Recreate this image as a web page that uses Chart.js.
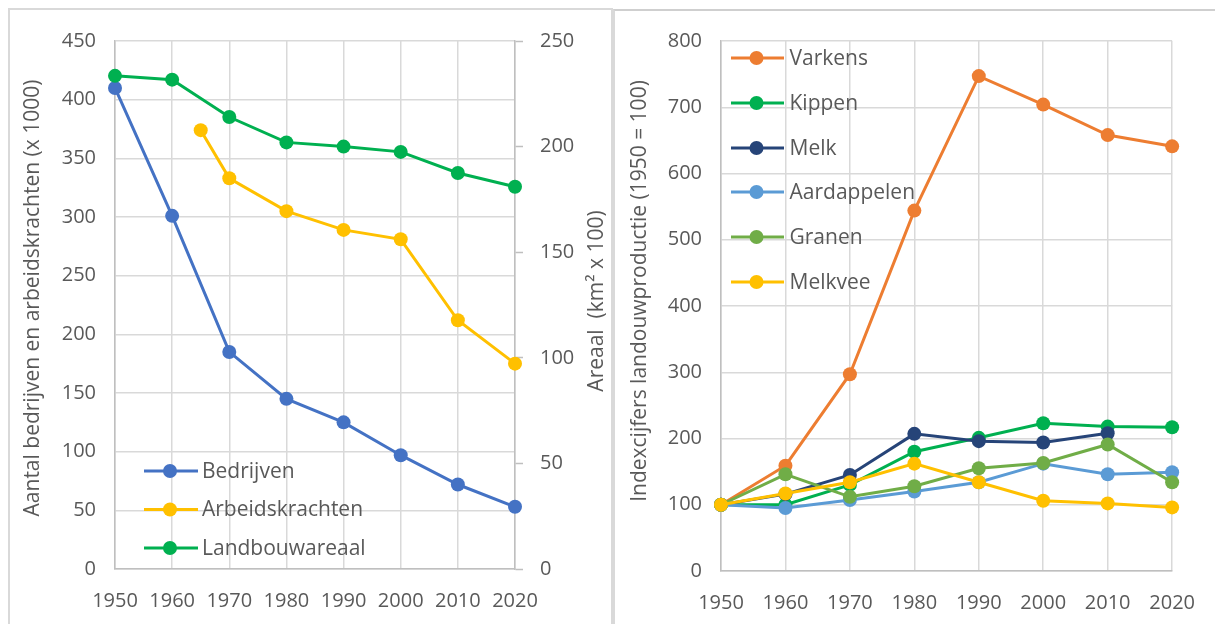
<!DOCTYPE html>
<html><head><meta charset="utf-8">
<script src="https://cdn.jsdelivr.net/npm/chart.js@4"></script>
<style>
html,body{margin:0;padding:0;background:#fff;overflow:hidden;width:1215px;height:624px;}
#p1{position:absolute;left:8px;top:8px;width:605px;height:640px;border:2px solid #d9d9d9;box-sizing:border-box;}
#p2{position:absolute;left:613px;top:9px;width:640px;height:640px;border-left:2px solid #d9d9d9;border-top:2px solid #cfcfcf;box-sizing:border-box;}
canvas{position:absolute;}
#c1{left:10px;top:10px;}
#c2{left:615px;top:10px;}
</style>
</head><body>
<div id="p1"></div><div id="p2"></div>
<canvas id="c1" width="600" height="614"></canvas>
<canvas id="c2" width="600" height="614"></canvas>
<script>
// ---- data ----
const years = [1950, 1960, 1970, 1980, 1990, 2000, 2010, 2020];
const bedrijven = [410, 301, 185, 145, 125, 97, 72, 53];
const arbeidsYears = [1965, 1970, 1980, 1990, 2000, 2010, 2020];
const arbeidskrachten = [374, 333, 305, 289, 281, 212, 175];
const landbouwareaal = [233.5, 231.7, 214, 202, 200, 197.5, 187.5, 181];

const varkens = [100, 159, 297, 544, 747, 704, 658, 641];
const kippen = [100, 100, 130, 180, 201, 223, 218, 217];
const melk = [100, 116, 145, 207, 196, 194, 208, null];
const aardappelen = [100, 95, 107, 120, 134, 162, 146, 149];
const granen = [100, 146, 112, 128, 155, 163, 191, 134];
const melkvee = [100, 117, 134, 162, 134, 106, 102, 96];

const leftTicks = [0, 50, 100, 150, 200, 250, 300, 350, 400, 450];
const areaalTicks = [0, 50, 100, 150, 200, 250];
const rightTicks = [0, 100, 200, 300, 400, 500, 600, 700, 800];

const FONT = '"Open Sans", "Noto Sans", sans-serif';
const TXT = '#595959';
const GRID = '#d9d9d9';
const AXIS = '#bfbfbf';

function pts(xs, ys) { return xs.map((x, i) => ({x: x, y: ys[i]})); }

function series(label, xs, ys, color, axis, idx, n) {
  return {
    label: label, data: pts(xs, ys), yAxisID: axis,
    borderColor: color, backgroundColor: color,
    pointBackgroundColor: color, pointBorderColor: color,
    borderWidth: 3, pointRadius: 7, pointBorderWidth: 0, pointHoverRadius: 7,
    tension: 0, clip: false, order: n - 1 - idx, spanGaps: false
  };
}

function deco(titles, legend) {
  return {
    id: 'deco',
    afterDraw(chart) {
      const ctx = chart.ctx;
      ctx.save();
      ctx.fillStyle = TXT;
      titles.forEach(t => {
        ctx.save();
        ctx.translate(t.x, t.y);
        ctx.rotate(-Math.PI / 2);
        ctx.font = t.size + 'px ' + FONT;
        ctx.textAlign = 'center';
        ctx.textBaseline = 'middle';
        ctx.fillText(t.text, 0, 0);
        ctx.restore();
      });
      const ds = chart.data.datasets;
      legend.items.forEach((it) => {
        const d = ds[it.ds];
        ctx.strokeStyle = d.borderColor;
        ctx.lineWidth = 3;
        ctx.beginPath();
        ctx.moveTo(legend.x1, it.y); ctx.lineTo(legend.x2, it.y);
        ctx.stroke();
        ctx.fillStyle = d.borderColor;
        ctx.beginPath();
        ctx.arc(legend.xm, it.y, 7, 0, Math.PI * 2);
        ctx.fill();
        ctx.fillStyle = TXT;
        ctx.font = legend.size + 'px ' + FONT;
        ctx.textAlign = 'left';
        ctx.textBaseline = 'middle';
        ctx.fillText(d.label, legend.xt, it.y + 1);
      });
      ctx.restore();
    }
  };
}

const tickFont = {family: FONT, size: 20};

// ---- left chart ----
const ds1 = [
  ['Bedrijven', years, bedrijven, '#4472c4', 'y'],
  ['Arbeidskrachten', arbeidsYears, arbeidskrachten, '#ffc000', 'y'],
  ['Landbouwareaal', years, landbouwareaal, '#00b050', 'y2']
].map((s, i, a) => series(s[0], s[1], s[2], s[3], s[4], i, a.length));

new Chart(document.getElementById('c1'), {
  type: 'line',
  data: {datasets: ds1},
  options: {
    responsive: false, animation: false, events: [],
    layout: {padding: {top: 30, left: 0, right: 0, bottom: 0}},
    plugins: {legend: {display: false}, tooltip: {enabled: false}},
    scales: {
      x: {
        type: 'linear', min: years[0], max: years[years.length - 1],
        afterBuildTicks: s => { s.ticks = years.map(v => ({value: v})); },
        ticks: {font: tickFont, color: TXT, padding: 20, maxRotation: 0, autoSkip: false, callback: v => String(v)},
        grid: {color: GRID, lineWidth: 1.5, drawTicks: false},
        border: {color: AXIS, width: 1.5},
        afterFit: s => { s.height = 55; }
      },
      y: {
        position: 'left', min: 0, max: leftTicks[leftTicks.length - 1],
        afterBuildTicks: s => { s.ticks = leftTicks.map(v => ({value: v})); },
        ticks: {font: tickFont, color: TXT, padding: 19},
        grid: {color: GRID, lineWidth: 1.5, drawTicks: false},
        border: {color: AXIS, width: 1.5},
        afterFit: s => { s.width = 105; }
      },
      y2: {
        position: 'right', min: 0, max: areaalTicks[areaalTicks.length - 1],
        afterBuildTicks: s => { s.ticks = areaalTicks.map(v => ({value: v})); },
        ticks: {font: tickFont, color: TXT, padding: 17},
        grid: {drawOnChartArea: false, drawTicks: true, tickLength: 8, tickColor: AXIS, tickWidth: 1.5, color: AXIS},
        border: {color: AXIS, width: 1.5},
        afterFit: s => { s.width = 95; }
      }
    }
  },
  plugins: [deco(
    [{text: 'Aantal bedrijven en arbeidskrachten (x 1000)', x: 23, y: 288, size: 21},
     {text: 'Areaal  (km\u00b2 x 100)', x: 587, y: 291, size: 21}],
    {x1: 134, x2: 188, xm: 160, xt: 192, size: 21,
     items: [{ds: 0, y: 461}, {ds: 1, y: 499.5}, {ds: 2, y: 538}]}
  )]
});

// ---- right chart ----
const ds2 = [
  ['Varkens', varkens, '#ed7d31'],
  ['Kippen', kippen, '#00b050'],
  ['Melk', melk, '#264478'],
  ['Aardappelen', aardappelen, '#5b9bd5'],
  ['Granen', granen, '#70ad47'],
  ['Melkvee', melkvee, '#ffc000']
].map((s, i, a) => series(s[0], years, s[1], s[2], 'y', i, a.length));

new Chart(document.getElementById('c2'), {
  type: 'line',
  data: {datasets: ds2},
  options: {
    responsive: false, animation: false, events: [],
    layout: {padding: {top: 30, left: 0, right: 40, bottom: 0}},
    plugins: {legend: {display: false}, tooltip: {enabled: false}},
    scales: {
      x: {
        type: 'linear', min: years[0], max: years[years.length - 1],
        afterBuildTicks: s => { s.ticks = years.map(v => ({value: v})); },
        ticks: {font: tickFont, color: TXT, padding: 20, maxRotation: 0, autoSkip: false, callback: v => String(v)},
        grid: {color: GRID, lineWidth: 1.5, drawTicks: false},
        border: {color: AXIS, width: 1.5},
        afterFit: s => { s.height = 53; }
      },
      y: {
        position: 'left', min: 0, max: rightTicks[rightTicks.length - 1],
        afterBuildTicks: s => { s.ticks = rightTicks.map(v => ({value: v})); },
        ticks: {font: tickFont, color: TXT, padding: 19},
        grid: {color: GRID, lineWidth: 1.5, drawTicks: false},
        border: {color: AXIS, width: 1.5},
        afterFit: s => { s.width = 106; }
      }
    }
  },
  plugins: [deco(
    [{text: 'Indexcijfers landouwproductie (1950 = 100)', x: 25, y: 281, size: 21}],
    {x1: 116, x2: 169, xm: 141.5, xt: 174.5, size: 21,
     items: [{ds: 0, y: 48}, {ds: 1, y: 93}, {ds: 2, y: 138}, {ds: 3, y: 182}, {ds: 4, y: 227}, {ds: 5, y: 272}]}
  )]
});
</script>
</body></html>
